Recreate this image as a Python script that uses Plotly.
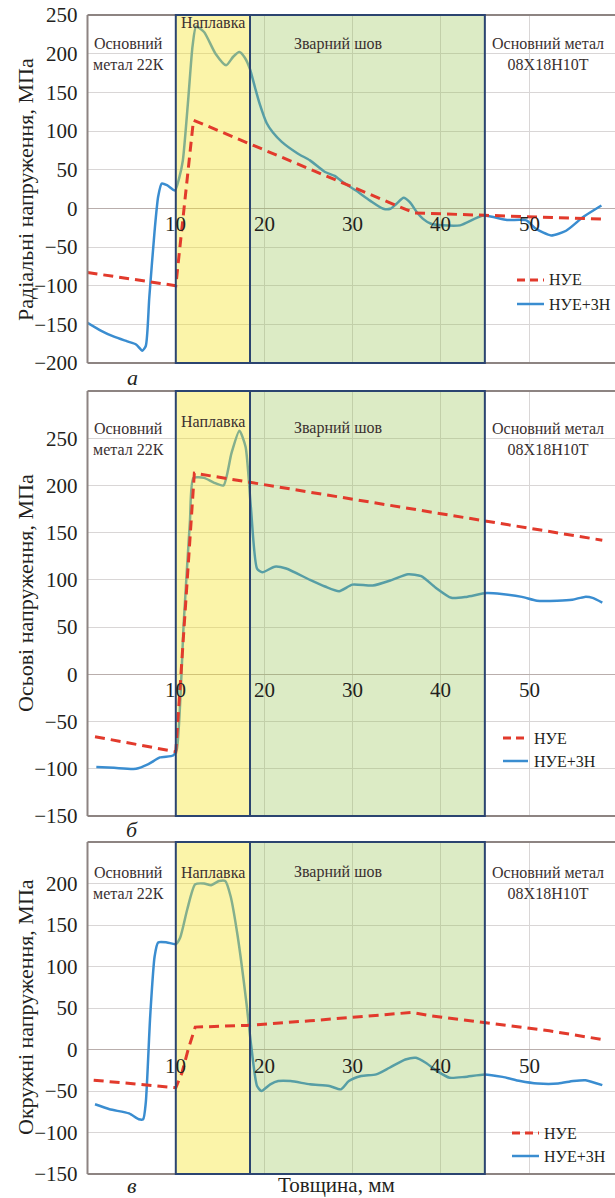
import plotly.graph_objects as go

# ---------------- data (thickness in mm, stress in MPa) ----------------
# Radial stresses
rad_nue_x = [0, 10, 12, 37, 45, 58.3]
rad_nue_y = [-83, -100, 114, -6, -9, -14]
rad_zn_x = [0, 1.5, 3.0, 4.5, 5.5, 6.2, 6.6, 7.0, 7.6, 8.0, 8.4, 9.0, 9.9, 10.4, 10.8,
            11.4, 11.9, 12.3, 13.2, 14.5, 15.7, 16.5, 17.2, 17.8, 18.4, 19.0, 19.5,
            20.3, 21.0, 22.0, 23.8, 25.2, 26.9, 28.0, 28.9, 30.4, 32.0, 33.5, 34.3,
            35.0, 35.8, 36.5, 37.3, 38.0, 38.9, 40.2, 42.2, 44.8, 47.5, 49.7, 50.8,
            52.5, 54.2, 56.1, 58.2]
rad_zn_y = [-148, -158, -166, -172, -176, -184, -178, -115, -29, 15, 32, 30, 23, 40, 62,
            140, 210, 235, 228, 200, 185, 196, 202, 195, 180, 155, 135,
            110, 98, 86, 71, 62, 47, 42, 34, 23, 10, -0.6, -0.6,
            6, 13.6, 8, -5, -13.6, -20, -22, -22, -9.4, -15, -15.6, -26.6,
            -35, -29, -11.5, 3.6]

# Axial stresses
ax_nue_x = [0.85, 10, 12.1, 58.3]
ax_nue_y = [-66, -82, 213, 142]
ax_zn_x = [1.0, 3.0, 5.5, 6.9, 8.2, 9.7, 10.1, 10.9, 11.6, 12.0, 13.2, 14.3, 15.4,
           16.3, 17.2, 17.9, 18.5, 19.2, 19.8, 21.2, 22.5, 25.2, 26.9, 28.5, 30.0,
           32.3, 34.5, 36.3, 37.8, 39.4, 41.2, 42.9, 45.2, 46.9, 49.2, 50.9, 53.2,
           54.9, 56.3, 57.2, 58.3]
ax_zn_y = [-98, -99, -100, -95, -88, -86, -80, 55, 162, 208, 208, 203, 200,
           234, 258, 241, 177, 112, 108, 114, 112, 100, 93, 88, 95,
           94, 100, 106, 104, 92, 81, 82, 86, 85, 82, 78, 78,
           79, 82, 81, 76]

# Hoop stresses
hoop_nue_x = [0.7, 10, 10.7, 11.4, 12.2, 18, 25.2, 30, 34.5, 36.7, 38.9, 44.9, 52.3, 58.3]
hoop_nue_y = [-37, -46, -28, 0, 27, 29, 34.6, 38.6, 42.6, 44.6, 40.6, 32.5, 22.5, 12]
hoop_zn_x = [0.85, 2.5, 4.7, 5.8, 6.3, 6.6, 7.1, 7.6, 8.0, 9.0, 10.0, 10.5, 11.3, 12.2,
             13.2, 14.0, 14.9, 15.6, 16.2, 17.0, 18.0, 18.5, 19.2, 19.7, 20.7, 21.6,
             23.0, 25.2, 27.4, 28.7, 29.6, 31.0, 32.7, 34.2, 36.0, 37.2, 38.3, 39.6,
             41.0, 42.7, 45.0, 47.0, 49.0, 51.0, 53.3, 55.0, 56.4, 58.3]
hoop_zn_y = [-66, -72, -77, -84, -84, -64, 40, 112, 129, 129, 127, 135, 169, 199,
             200, 198, 203, 203, 185, 137, 56, 8, -44, -50, -42, -38,
             -38, -42, -44, -48, -38, -32, -30, -22, -12, -10, -16, -26,
             -34, -33, -30, -33, -38, -41, -41, -38, -37, -43]

# Zones across the thickness
zone_cladding = (10, 18.4)
zone_weld = (18.4, 45)

series_names = ["НУЕ", "НУЕ+3Н"]
x_ticks = [10, 20, 30, 40, 50]
panels = [
    dict(title="Радіальні напруження, МПа", label="а", yrange=[-200, 250],
         yticks=[-200, -150, -100, -50, 0, 50, 100, 150, 200, 250],
         nue=(rad_nue_x, rad_nue_y), zn=(rad_zn_x, rad_zn_y)),
    dict(title="Осьові напруження, МПа", label="б", yrange=[-150, 300],
         yticks=[-150, -100, -50, 0, 50, 100, 150, 200, 250],
         nue=(ax_nue_x, ax_nue_y), zn=(ax_zn_x, ax_zn_y)),
    dict(title="Окружні напруження, МПа", label="в", yrange=[-150, 250],
         yticks=[-150, -100, -50, 0, 50, 100, 150, 200],
         nue=(hoop_nue_x, hoop_nue_y), zn=(hoop_zn_x, hoop_zn_y)),
]

# ---------------- layout geometry (pixels of the 615x1198 page) ----------------
W, H = 615, 1198
PLOT_LEFT = 87.5
panel_px = [(15, 363), (391, 816), (842, 1174)]          # top, bottom of each plot area
title_py = [190, 593, 1007]
label_py = [377, 829, 1185]
# legend: sample x0, sample x1, text x, row 1 y, row 2 y
legend_px = [(517, 544, 547, 280, 304), (503, 528, 532, 738, 761), (512, 539, 542, 1133, 1156)]
zone_text_py = [(22, 44, 63), (422, 428, 450), (872, 872, 894)]


def px(v):
    return v / W


def py(v):
    return 1 - v / H


SERIF = "Liberation Serif"
RED = "#e23a2c"
BLUE = "#3a8dd0"
NAVY = "#2b4470"
FRAME = "#8d8482"
INK = "#231f20"

fig = go.Figure()
shapes, annotations = [], []
layout = dict(
    width=W, height=H,
    margin=dict(l=0, r=0, t=0, b=0, pad=0, autoexpand=False),
    paper_bgcolor="white", plot_bgcolor="white",
    font=dict(family=SERIF, color=INK),
    showlegend=False,
)

x_max = (W - PLOT_LEFT) / 8.83

for i, p in enumerate(panels):
    n = "" if i == 0 else str(i + 1)
    xa, ya = "x" + n, "y" + n
    top, bottom = panel_px[i]
    y_lo, y_hi = p["yrange"]

    # НУЕ+3Н curve lies beneath the translucent zone fills
    fig.add_trace(go.Scatter(
        x=p["zn"][0], y=p["zn"][1], mode="lines", name=series_names[1],
        line=dict(color=BLUE, width=2.5, shape="spline", smoothing=0.6),
        xaxis=xa, yaxis=ya))
    # translucent zone fills
    for (z0, z1), col in [(zone_cladding, "rgba(245,228,40,0.40)"),
                          (zone_weld, "rgba(150,195,80,0.33)")]:
        fig.add_trace(go.Scatter(
            x=[z0, z0, z1, z1, z0], y=[y_lo, y_hi, y_hi, y_lo, y_lo],
            mode="lines", fill="toself", fillcolor=col, line=dict(width=0),
            hoverinfo="skip", xaxis=xa, yaxis=ya))
    fig.add_trace(go.Scatter(
        x=p["nue"][0], y=p["nue"][1], mode="lines", name=series_names[0],
        line=dict(color=RED, width=3, dash="10px,6px"),
        xaxis=xa, yaxis=ya))

    layout["xaxis" + n] = dict(
        domain=[px(PLOT_LEFT), 1], range=[0, x_max], anchor=ya,
        tickvals=x_ticks, showticklabels=False, ticks="", automargin=False,
        showgrid=True, gridcolor="#d9d6d6", gridwidth=1,
        zeroline=False, showline=False, fixedrange=True)
    layout["yaxis" + n] = dict(
        domain=[py(bottom), py(top)], range=p["yrange"], anchor=xa,
        tickvals=p["yticks"],
        ticktext=[("−" + str(-v)) if v < 0 else str(v) for v in p["yticks"]],
        tickfont=dict(family=SERIF, size=21, color=INK),
        ticks="", ticklabelstandoff=9, automargin=False,
        showgrid=True, gridcolor="#d9d6d6", gridwidth=1,
        zeroline=True, zerolinecolor="#b9aeac", zerolinewidth=1.2,
        showline=False, fixedrange=True)

    # plot frame (left, top, bottom)
    for (x0, y0, x1, y1) in [(0, 0, 0, 1), (0, 1, 1, 1), (0, 0, 1, 0)]:
        shapes.append(dict(type="line", xref=xa + " domain", yref=ya + " domain",
                           x0=x0, x1=x1, y0=y0, y1=y1,
                           line=dict(color=FRAME, width=2), layer="above"))
    # zone outlines
    for (z0, z1) in [zone_cladding, zone_weld]:
        shapes.append(dict(type="rect", xref=xa, yref=ya + " domain",
                           x0=z0, x1=z1, y0=0, y1=1,
                           fillcolor="rgba(0,0,0,0)",
                           line=dict(color=NAVY, width=2), layer="above"))

    # legend drawn by hand inside the plot area
    lx0, lx1, ltx, ly1, ly2 = legend_px[i]
    shapes.append(dict(type="line", xref="paper", yref="paper",
                       x0=px(lx0), x1=px(lx1), y0=py(ly1), y1=py(ly1),
                       line=dict(color=RED, width=3, dash="8px,5px"), layer="above"))
    shapes.append(dict(type="line", xref="paper", yref="paper",
                       x0=px(lx0), x1=px(lx1), y0=py(ly2), y1=py(ly2),
                       line=dict(color=BLUE, width=2.5), layer="above"))
    for name, ly in zip(series_names, (ly1, ly2)):
        annotations.append(dict(x=px(ltx), y=py(ly), xref="paper", yref="paper",
                                text=name, showarrow=False, xanchor="left",
                                yanchor="middle",
                                font=dict(family=SERIF, size=16, color=INK)))

    # x tick labels sit just under the zero line
    for v in x_ticks:
        annotations.append(dict(x=v, y=0, xref=xa, yref=ya, text=str(v),
                                showarrow=False, yanchor="top", xanchor="center",
                                yshift=-2,
                                font=dict(family=SERIF, size=21, color=INK)))

    # zone captions
    t_clad, t_l1, t_l2 = zone_text_py[i]
    zfont = dict(family=SERIF, size=16, color="#3a3030")
    annotations.append(dict(x=px(128), y=py((t_l1 + t_l2) / 2), xref="paper", yref="paper",
                            text="Основний<br>метал 22К", showarrow=False,
                            xanchor="center", yanchor="middle", font=zfont))
    annotations.append(dict(x=sum(zone_cladding) / 2, y=py(t_clad), xref=xa, yref="paper",
                            text="Наплавка", showarrow=False,
                            xanchor="center", yanchor="middle", font=zfont))
    annotations.append(dict(x=px(338), y=py(t_l1), xref="paper", yref="paper",
                            text="Зварний шов", showarrow=False,
                            xanchor="center", yanchor="middle", font=zfont))
    annotations.append(dict(x=px(548), y=py((t_l1 + t_l2) / 2), xref="paper", yref="paper",
                            text="Основний метал<br>08Х18Н10Т", showarrow=False,
                            xanchor="center", yanchor="middle", font=zfont))

    # y-axis title and panel letter
    annotations.append(dict(x=px(25), y=py(title_py[i]), xref="paper", yref="paper",
                            text=p["title"], textangle=-90, showarrow=False,
                            xanchor="center", yanchor="middle",
                            font=dict(family=SERIF, size=22, color=INK)))
    annotations.append(dict(x=px(132), y=py(label_py[i]), xref="paper", yref="paper",
                            text="<i>" + p["label"] + "</i>", showarrow=False,
                            xanchor="center", yanchor="middle",
                            font=dict(family=SERIF, size=22, color=INK)))

annotations.append(dict(x=px(336), y=py(1185), xref="paper", yref="paper",
                        text="Товщина, мм", showarrow=False,
                        xanchor="center", yanchor="middle",
                        font=dict(family=SERIF, size=21, color=INK)))

layout["shapes"] = shapes
layout["annotations"] = annotations
fig.update_layout(**layout)
fig.write_html("out.html")
